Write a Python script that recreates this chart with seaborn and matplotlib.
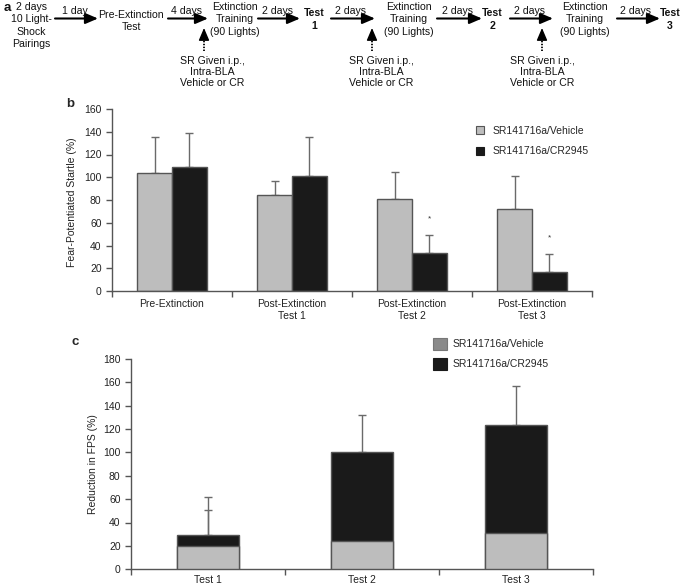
import matplotlib
matplotlib.use("Agg")
import matplotlib.pyplot as plt
import seaborn as sns
import pandas as pd
import numpy as np
from matplotlib.patches import Patch
from matplotlib.lines import Line2D

# ---------------- data ----------------
groups = ["SR141716a/Vehicle", "SR141716a/CR2945"]

# panel b
phases_b = ["Pre-Extinction", "Post-Extinction\nTest 1",
            "Post-Extinction\nTest 2", "Post-Extinction\nTest 3"]
fps_vehicle = [104, 84, 81, 72]
fps_vehicle_sem = [31, 13, 24, 29]
fps_cr = [109, 101, 33, 17]
fps_cr_sem = [30, 34, 16.5, 15.5]
sig_b = ["", "", "*", "*"]
yticks_b = [0, 20, 40, 60, 80, 100, 120, 140, 160]

# panel c
tests_c = ["Test 1", "Test 2", "Test 3"]
red_vehicle = [20, 24, 31]
red_vehicle_sem = [31, np.nan, np.nan]
red_cr = [29, 100, 123]
red_cr_sem = [32.5, 31.5, 34]
yticks_c = [0, 20, 40, 60, 80, 100, 120, 140, 160, 180]

# ---------------- style ----------------
sns.set_style("ticks")
plt.rcParams["font.family"] = ["Liberation Sans", "DejaVu Sans"]
FS = 7.5
FSA = 7.6
W, H = 685, 588
LIGHT = "#bdbdbd"
DARK = "#1a1a1a"
EDGE = "#555555"
ERRC = "#6a6a6a"

fig = plt.figure(figsize=(W / 100, H / 100), dpi=100)


def fp(x, y):
    return (x / W, 1 - y / H)


# ---------------- panel a (flow chart) ----------------
def ftext(x, y, s, **kw):
    kw.setdefault("fontsize", FSA)
    kw.setdefault("ha", "center")
    kw.setdefault("va", "center")
    kw.setdefault("color", "#111111")
    fig.text(*fp(x, y), s, **kw)


def harrow(x0, x1, y=18.5):
    fig.add_artist(matplotlib.patches.FancyArrowPatch(
        fp(x0, y), fp(x1, y), transform=fig.transFigure,
        arrowstyle="-|>,head_length=0.75,head_width=0.32", mutation_scale=10,
        lw=1.5, color="black", shrinkA=0, shrinkB=0))


def varrow(x, y0=51, y1=28):
    fig.add_artist(Line2D([fp(x, y0)[0], fp(x, y1 + 6)[0]],
                          [fp(x, y0)[1], fp(x, y1 + 6)[1]],
                          transform=fig.transFigure, color="black",
                          lw=1.3, linestyle=(0, (0.8, 0.8))))
    fig.add_artist(matplotlib.patches.FancyArrowPatch(
        fp(x, y1 + 7), fp(x, y1), transform=fig.transFigure,
        arrowstyle="-|>,head_length=0.75,head_width=0.32", mutation_scale=10,
        lw=1.0, color="black", shrinkA=0, shrinkB=0))


LS = 1.32
ftext(4, 8, "a", fontsize=9.5, fontweight="bold", ha="left")
ftext(31, 25.5, "2 days\n10 Light-\nShock\nPairings", linespacing=LS)
harrow(55, 98); ftext(75, 11, "1 day")
ftext(131, 21, "Pre-Extinction\nTest", linespacing=LS)
harrow(168, 208); ftext(187, 11, "4 days")
ext = "Extinction\nTraining\n(90 Lights)"
sr = "SR Given i.p.,\nIntra-BLA\nVehicle or CR"
ftext(235, 19.5, ext, linespacing=LS)
varrow(204); ftext(212, 72, sr, linespacing=1.15)
harrow(258, 300); ftext(278, 11, "2 days")
ftext(314, 19.5, "Test\n1", fontweight="bold", linespacing=LS)
harrow(331, 375); ftext(350, 11, "2 days")
ftext(409, 19.5, ext, linespacing=LS)
varrow(372); ftext(381, 72, sr, linespacing=1.15)
harrow(437, 482); ftext(457, 11, "2 days")
ftext(492, 19.5, "Test\n2", fontweight="bold", linespacing=LS)
harrow(510, 553); ftext(529, 11, "2 days")
ftext(585, 19.5, ext, linespacing=LS)
varrow(542); ftext(542, 72, sr, linespacing=1.15)
harrow(617, 660); ftext(636, 11, "2 days")
ftext(670, 19.5, "Test\n3", fontweight="bold", linespacing=LS)


def style_axes(ax, n, ymax, yticks):
    sns.despine(ax=ax)
    ax.set_xlim(-0.5, n - 0.5)
    ax.set_ylim(0, ymax)
    ax.set_yticks(yticks)
    ax.spines["left"].set_bounds(0, ymax)
    for s in ("left", "bottom"):
        ax.spines[s].set_color("#555555")
        ax.spines[s].set_linewidth(1.0)
    ax.set_xticks(np.arange(n))
    ax.set_xticks(np.arange(n + 1) - 0.5, minor=True)
    ax.tick_params(axis="x", which="major", length=0, labelsize=FS, pad=6,
                   colors="#222222")
    ax.tick_params(axis="x", which="minor", length=4, width=1, color="#555555")
    ax.tick_params(axis="y", length=4, width=1, color="#555555",
                   labelsize=FS, colors="#222222")
    ax.set_xlabel("")


# ---------------- panel b ----------------
axb = fig.add_axes([112 / W, 1 - 291 / H, 480 / W, 182 / H])
df_b = pd.DataFrame({
    "phase": phases_b * 2,
    "group": [groups[0]] * 4 + [groups[1]] * 4,
    "value": fps_vehicle + fps_cr,
})
sns.barplot(data=df_b, x="phase", y="value", hue="group", order=phases_b,
            hue_order=groups, palette=[LIGHT, DARK], width=0.58,
            edgecolor=EDGE, linewidth=1.0, errorbar=None, legend=False,
            ax=axb, zorder=2)
for cont, vals, errs in zip(axb.containers, [fps_vehicle, fps_cr],
                            [fps_vehicle_sem, fps_cr_sem]):
    xs = [b.get_x() + b.get_width() / 2 for b in cont]
    axb.errorbar(xs, vals, yerr=[np.zeros(len(vals)), errs], fmt="none",
                 ecolor=ERRC, elinewidth=1.0, capsize=3, capthick=1.0,
                 zorder=1)
    if vals is fps_cr:
        for x, v, e, s in zip(xs, vals, errs, sig_b):
            if s:
                axb.text(x, v + e + 14, s, ha="center", va="center",
                         fontsize=6, color="#333333")
style_axes(axb, 4, 160, yticks_b)
axb.set_ylabel("Fear-Potentiated Startle (%)", fontsize=FS, color="#222222")
axb.yaxis.set_label_coords(-0.072, 0.49)
fig.text(*fp(66, 104), "b", fontsize=9.5, fontweight="bold",
         ha="left", va="center")
fig.legend(handles=[Patch(facecolor=LIGHT, edgecolor=EDGE, lw=0.8),
                    Patch(facecolor=DARK, edgecolor=DARK, lw=0.8)],
           labels=groups, loc="upper left", bbox_to_anchor=fp(476, 125.5),
           frameon=False, fontsize=FS, handlelength=0.75, handleheight=0.8,
           handletextpad=0.85, labelspacing=1.05, borderpad=0,
           borderaxespad=0)

# ---------------- panel c ----------------
axc = fig.add_axes([131 / W, 1 - 569.3 / H, 462 / W, 210.6 / H])
df_cr = pd.DataFrame({"test": tests_c, "value": red_cr})
df_veh = pd.DataFrame({"test": tests_c, "value": red_vehicle})
sns.barplot(data=df_cr, x="test", y="value", order=tests_c, color=DARK,
            width=0.4, edgecolor=EDGE, linewidth=1.0, errorbar=None,
            ax=axc, zorder=2, saturation=1)
sns.barplot(data=df_veh, x="test", y="value", order=tests_c, color=LIGHT,
            width=0.4, edgecolor=EDGE, linewidth=1.0, errorbar=None,
            ax=axc, zorder=3, saturation=1)
xs_c = np.arange(len(tests_c))
axc.errorbar(xs_c, red_cr, yerr=[np.zeros(3), red_cr_sem], fmt="none",
             ecolor=ERRC, elinewidth=1.0, capsize=3, capthick=1.0, zorder=1)
axc.errorbar(xs_c, red_vehicle, yerr=[np.zeros(3), red_vehicle_sem],
             fmt="none", ecolor=ERRC, elinewidth=1.0, capsize=3,
             capthick=1.0, zorder=1)
style_axes(axc, 3, 180, yticks_c)
axc.tick_params(axis="x", which="major", pad=4)
axc.set_ylabel("Reduction in FPS (%)", fontsize=FS, color="#222222")
axc.yaxis.set_label_coords(-0.072, 0.5)
fig.text(*fp(72, 342), "c", fontsize=9.5, fontweight="bold",
         ha="left", va="center")
fig.legend(handles=[Patch(facecolor="#8a8a8a", edgecolor="#777777", lw=0.8),
                    Patch(facecolor=DARK, edgecolor=DARK, lw=0.8)],
           labels=groups, loc="upper left", bbox_to_anchor=fp(433, 337.5),
           frameon=False, fontsize=FS, handlelength=1.35, handleheight=1.45,
           handletextpad=0.55, labelspacing=0.75, borderpad=0,
           borderaxespad=0)

fig.savefig("out.png", dpi=100)
